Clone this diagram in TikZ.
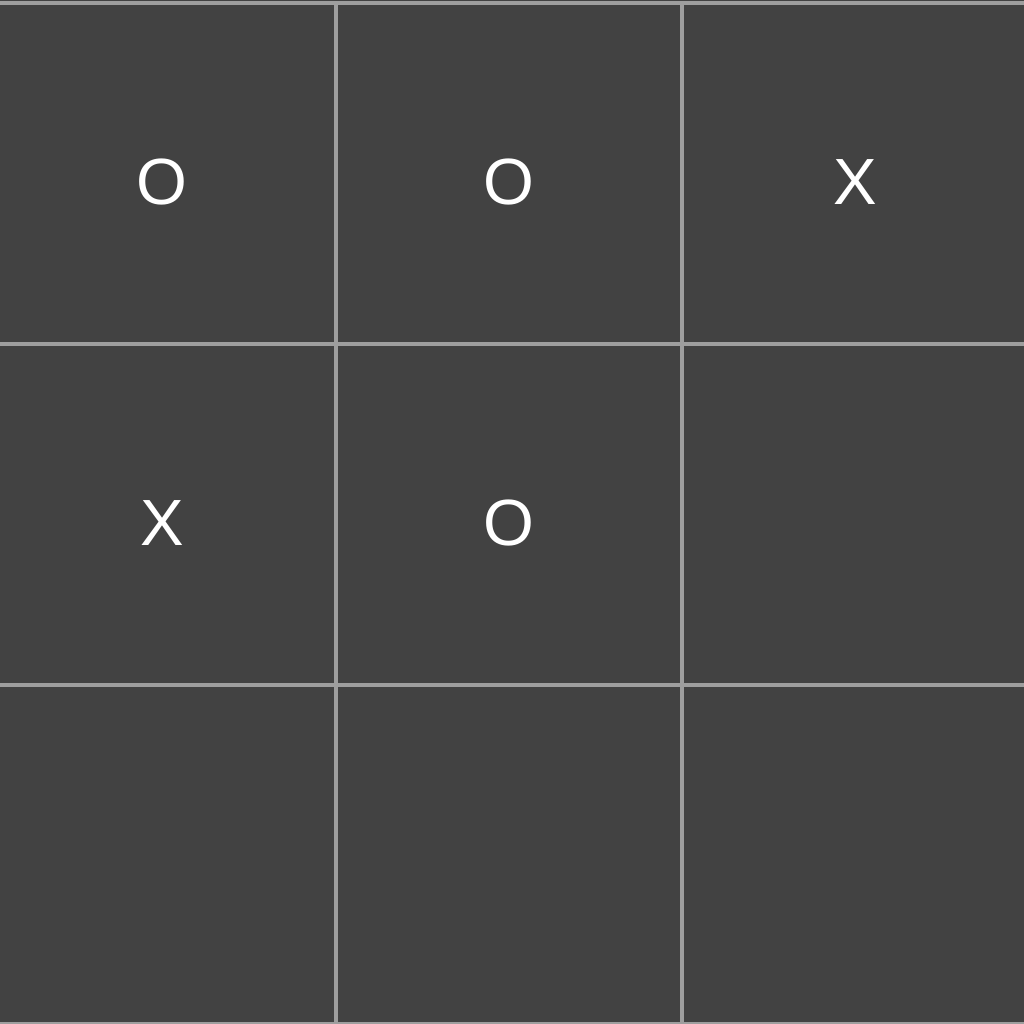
\documentclass[tikz,border=0pt]{standalone}
\usepackage{fontspec}
\setmainfont{Liberation Sans}
\definecolor{cellbg}{HTML}{424242}
\definecolor{gridln}{HTML}{9E9E9E}
\begin{document}
\begin{tikzpicture}[x=0.75pt,y=-0.75pt,
  cell/.style={rectangle,fill=cellbg,draw=gridln,line width=3pt,inner sep=0pt,outer sep=0pt,
    minimum width=259.875pt,minimum height=255.75pt},
  lastrow/.style={minimum height=254.25pt},
  mk/.style={text=white,inner sep=0pt,anchor=base,font=\fontsize{49}{58}\selectfont}]
\useasboundingbox (0,0) rectangle (1024,1024);
\clip (0,0) rectangle (1024,1024);
\fill[cellbg] (0,0) rectangle (1024,1024);
\node[cell] (c11) at (162.25,173.5) {};
\node[cell] (c12) at (508.75,173.5) {};
\node[cell] (c13) at (855.25,173.5) {};
\node[cell] (c21) at (162.25,514.5) {};
\node[cell] (c22) at (508.75,514.5) {};
\node[cell] (c23) at (855.25,514.5) {};
\node[cell,lastrow] (c31) at (162.25,854.5) {};
\node[cell,lastrow] (c32) at (508.75,854.5) {};
\node[cell,lastrow] (c33) at (855.25,854.5) {};
\node[mk] (m11) at ([yshift=-23.6pt]c11.center) {O};
\node[mk] (m12) at ([yshift=-23.6pt]c12.center) {O};
\node[mk] (m13) at ([yshift=-23.6pt]c13.center) {X};
\node[mk] (m21) at ([yshift=-23.6pt]c21.center) {X};
\node[mk] (m22) at ([yshift=-23.6pt]c22.center) {O};
\end{tikzpicture}
\end{document}
